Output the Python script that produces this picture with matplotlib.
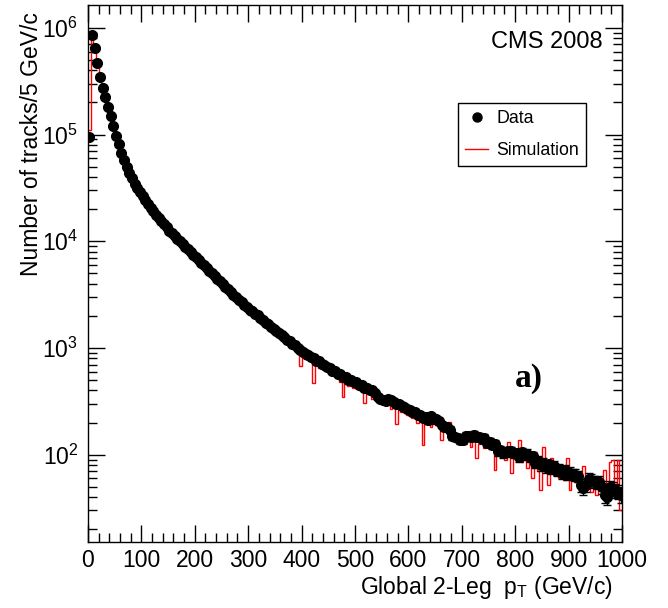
import numpy as np
import matplotlib
matplotlib.use('Agg')
import matplotlib.pyplot as plt
from matplotlib.lines import Line2D
from matplotlib.ticker import MultipleLocator, LogLocator, NullFormatter

plt.rcParams['font.family'] = ['Liberation Sans', 'DejaVu Sans']
plt.rcParams['mathtext.fontset'] = 'custom'
plt.rcParams['mathtext.rm'] = 'Liberation Sans'
plt.rcParams['mathtext.it'] = 'Liberation Sans:italic'
plt.rcParams['mathtext.default'] = 'regular'

# 5 GeV/c bins from 0 to 1000
binw = 5
edges = np.arange(0, 1000 + binw, binw)
centers = edges[:-1] + binw / 2.

# tracks per bin, data
data = [95000, 850000, 650000, 468000, 347000, 275000, 224000, 182000, 148000, 120000,
	97700, 81300, 67600, 57500, 50100, 43600, 38900, 34700, 31600, 28800,
	26300, 24300, 22400, 20700, 19100, 17800, 16600, 15500, 14500, 13500,
	12600, 11900, 11200, 10600, 10000, 9440, 8910, 8410, 7940, 7500,
	7080, 6680, 6310, 5960, 5620, 5310, 5010, 4730, 4470, 4220,
	3980, 3760, 3550, 3350, 3160, 2990, 2820, 2690, 2540, 2400,
	2290, 2210, 2060, 2020, 1890, 1840, 1720, 1680, 1570, 1520,
	1440, 1390, 1310, 1270, 1190, 1160, 1090, 1060, 990, 960,
	915, 875, 860, 815, 800, 760, 750, 705, 700, 660,
	650, 615, 610, 575, 570, 540, 535, 505, 505, 480,
	475, 452, 448, 425, 424, 400, 402, 380, 348, 330,
	325, 320, 330, 326, 312, 300, 298, 284, 282, 266,
	265, 250, 252, 236, 236, 222, 224, 210, 228, 216,
	216, 205, 190, 180, 182, 172, 150, 145, 143, 138,
	138, 150, 151, 145, 153, 146, 147, 141, 143, 129,
	131, 124, 125, 108, 110, 104, 106, 108, 108, 103,
	103, 96, 106, 100, 102, 95, 97, 84, 87, 80,
	83, 76, 81, 74, 78, 71, 74, 68, 72, 66,
	68, 66, 65, 63, 52, 49, 52, 59, 58, 56,
	55, 56, 50, 42, 40, 50, 48, 46, 45, 42]

# simulation histogram
sim = [110000, 800000, 640000, 470000, 345000, 272000, 222000, 180000, 146000, 118000,
	96000, 80000, 66500, 56500, 49000, 42800, 38000, 33800, 30800, 28000,
	25800, 23700, 21800, 20000, 18600, 17300, 16100, 14300, 14000, 12400,
	12200, 11500, 10000, 10200, 9650, 9100, 8100, 8100, 7650, 7200,
	6850, 6000, 6050, 5400, 5400, 5100, 4800, 4400, 4300, 4050,
	3500, 3600, 3420, 3250, 2850, 2880, 2700, 2450, 2450, 2300,
	2050, 2150, 1900, 2000, 1700, 1600, 1720, 1500, 1560, 1380,
	1400, 1250, 1300, 1150, 1180, 1050, 1080, 960, 950, 680,
	880, 780, 830, 760, 470, 730, 650, 700, 620, 650,
	600, 560, 610, 520, 480, 350, 510, 440, 470, 420,
	455, 400, 430, 305, 380, 395, 330, 370, 340, 320,
	345, 290, 325, 270, 305, 195, 285, 250, 270, 235,
	262, 220, 245, 200, 230, 123, 205, 215, 180, 195,
	190, 185, 138, 170, 175, 204, 150, 160, 140, 150,
	160, 135, 140, 117, 150, 93, 125, 145, 115, 130,
	118, 128, 72, 118, 100, 108, 90, 132, 68, 100,
	110, 138, 85, 95, 75, 92, 60, 88, 70, 47,
	117, 70, 52, 93, 65, 78, 60, 72, 58, 93,
	47, 72, 55, 68, 58, 78, 50, 60, 45, 62,
	42, 62, 50, 72, 48, 85, 89, 45, 89, 30]

data = np.array(data, dtype=float)
sim = np.array(sim, dtype=float)

fig = plt.figure(figsize=(6.68, 6.08), dpi=100)
ax = fig.add_axes([0.1317, 0.1086, 0.7994, 0.8832])

ax.stairs(sim, edges, color='red', lw=1, baseline=None, zorder=2)
ax.errorbar(centers, data, yerr=np.sqrt(data), fmt='o', color='black', ms=7,
	elinewidth=1, capsize=3, capthick=1, zorder=3)

ax.set_yscale('log')
ax.set_xlim(0, 1000)
ax.set_ylim(15.2, 1.64e6)

ax.xaxis.set_major_locator(MultipleLocator(100))
ax.xaxis.set_minor_locator(MultipleLocator(20))
ax.yaxis.set_major_locator(LogLocator(base=10, numticks=20))
ax.yaxis.set_minor_locator(LogLocator(base=10, subs=np.arange(2, 10), numticks=20))
ax.yaxis.set_minor_formatter(NullFormatter())
ax.tick_params(which='both', direction='in', top=True, right=True, labelsize=16.5, pad=5)
ax.tick_params(axis='y', pad=7)
ax.tick_params(which='major', length=12, width=1)
ax.tick_params(which='minor', length=6.5, width=1)
for s in ax.spines.values():
	s.set_linewidth(1)

ax.set_xlabel(r'Global 2-Leg  p$_{T}$ (GeV/c)', fontsize=16.5, loc='right')
ax.xaxis.set_label_coords(0.983, -0.06)
ax.set_ylabel('Number of tracks/5 GeV/c', fontsize=16.5, loc='top')
ax.yaxis.set_label_coords(-0.084, 0.987)

ax.text(0.964, 0.931, 'CMS 2008', transform=ax.transAxes, ha='right', va='center', fontsize=17)
ax.text(0.826, 0.305, 'a)', transform=ax.transAxes, ha='center', va='center', fontsize=24,
	family='Liberation Serif', fontweight='bold')

handles = [Line2D([], [], marker='o', ls='none', color='black', ms=6.5),
	Line2D([], [], color='red', lw=1)]
leg = ax.legend(handles, ['Data', 'Simulation'], loc='upper left', bbox_to_anchor=(0.693, 0.8175),
	fontsize=12.8, frameon=True, fancybox=False, borderpad=0.4, labelspacing=0.85,
	handlelength=1.3, handletextpad=0.45, borderaxespad=0, framealpha=1)
leg.get_frame().set_edgecolor('black')
leg.get_frame().set_linewidth(1)

fig.savefig('out.png', dpi=100)
